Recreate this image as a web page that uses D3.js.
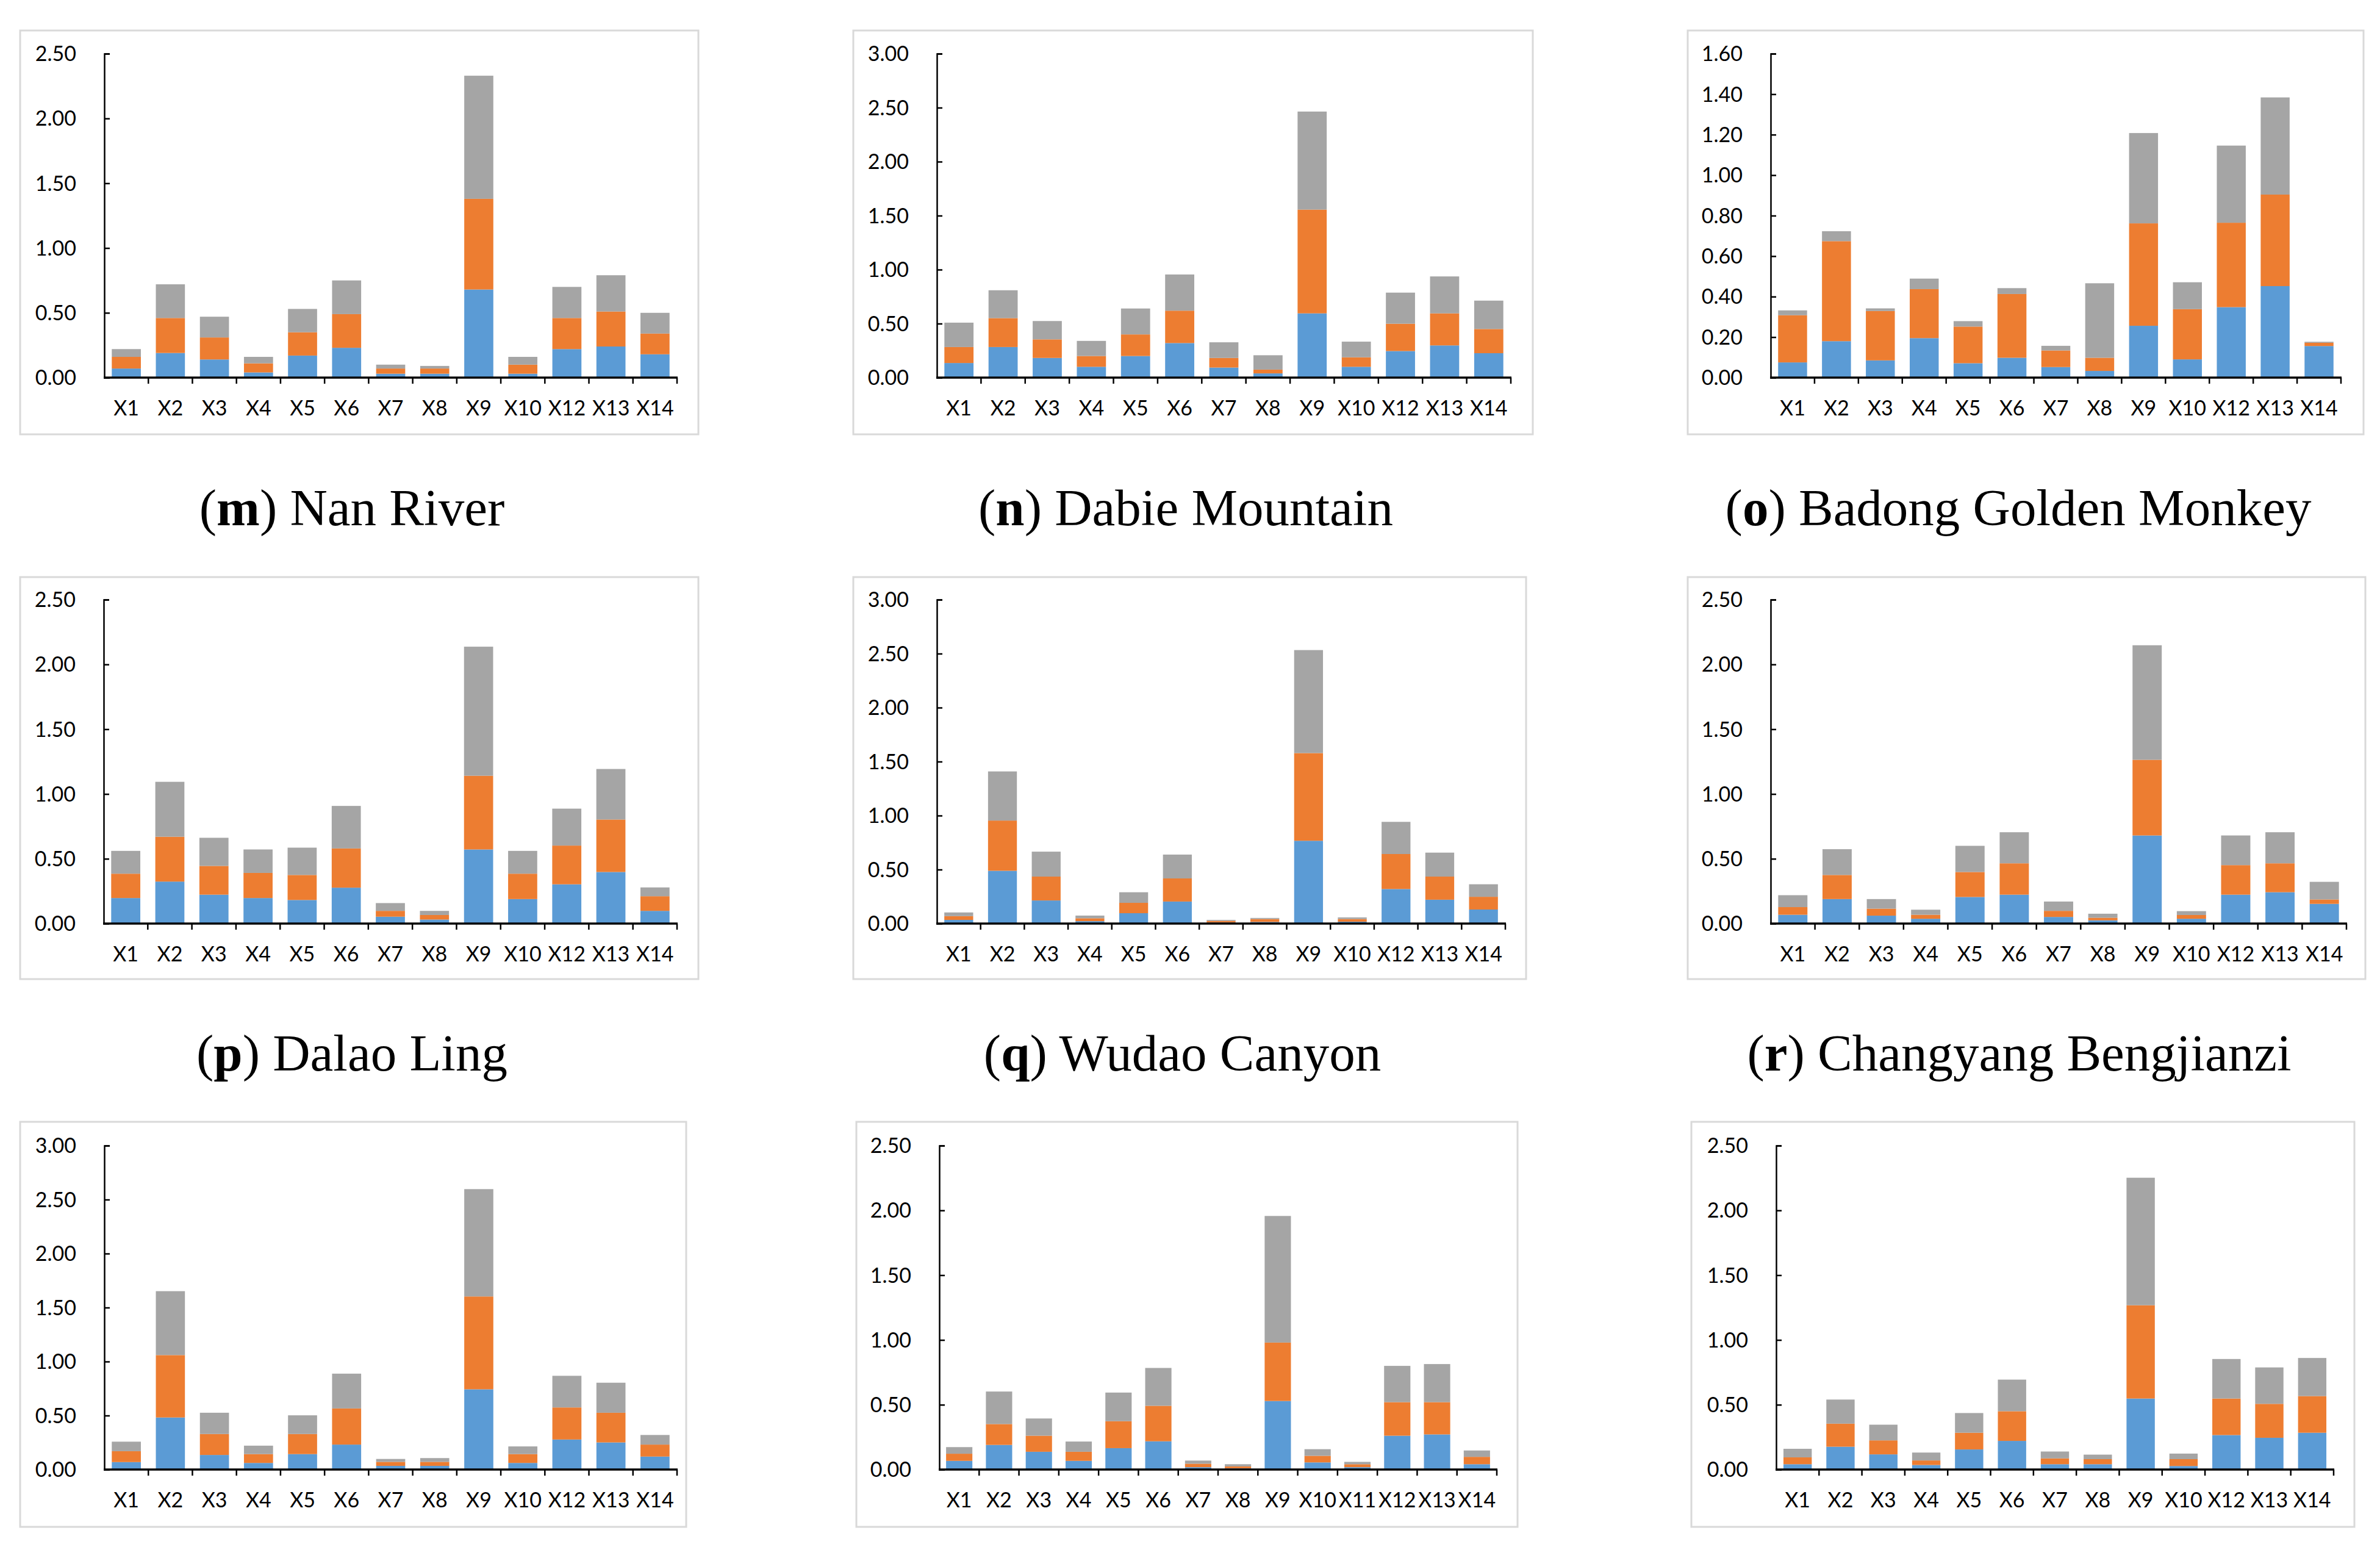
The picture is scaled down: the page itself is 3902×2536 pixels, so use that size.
<!DOCTYPE html>
<html lang="en">
<head>
<meta charset="utf-8">
<title>Stacked bars by site</title>
<script src="https://cdn.jsdelivr.net/npm/d3@7"></script>
<style>
  body { margin: 0; background: #fff; }
  .tick-label { font-family: Lato, "Open Sans", sans-serif; font-size: 34px; fill: #000; }
  .title { font-family: "Liberation Serif", "DejaVu Serif", serif; font-size: 85px; fill: #000; }
</style>
</head>
<body>
<div id="container"></div>
<script>
// categories
var cats13 = ["X1","X2","X3","X4","X5","X6","X7","X8","X9","X10","X12","X13","X14"];
var cats14 = ["X1","X2","X3","X4","X5","X6","X7","X8","X9","X10","X11","X12","X13","X14"];

// (m) Nan River
var nanBlue   = [0.07,0.19,0.14,0.04,0.17,0.23,0.03,0.03,0.68,0.03,0.22,0.24,0.18];
var nanOrange = [0.09,0.27,0.17,0.07,0.18,0.26,0.04,0.04,0.70,0.07,0.24,0.27,0.16];
var nanGray   = [0.06,0.26,0.16,0.05,0.18,0.26,0.03,0.02,0.95,0.06,0.24,0.28,0.16];
// (n) Dabie Mountain
var dabieBlue   = [0.135,0.283,0.182,0.10,0.20,0.32,0.093,0.039,0.595,0.10,0.246,0.298,0.226];
var dabieOrange = [0.148,0.268,0.172,0.10,0.20,0.30,0.089,0.035,0.961,0.088,0.253,0.297,0.224];
var dabieGray   = [0.226,0.258,0.170,0.14,0.24,0.335,0.145,0.133,0.908,0.145,0.288,0.342,0.263];
// (o) Badong Golden Monkey
var badongBlue   = [0.075,0.18,0.085,0.195,0.071,0.098,0.052,0.033,0.256,0.09,0.348,0.452,0.156];
var badongOrange = [0.233,0.494,0.244,0.242,0.181,0.315,0.082,0.065,0.506,0.248,0.417,0.452,0.016];
var badongGray   = [0.024,0.049,0.013,0.052,0.027,0.029,0.023,0.368,0.446,0.133,0.381,0.480,0.005];
// (p) Dalao Ling
var dalaoBlue   = [0.197,0.324,0.223,0.197,0.182,0.277,0.053,0.031,0.572,0.189,0.303,0.398,0.098];
var dalaoOrange = [0.188,0.346,0.222,0.194,0.193,0.303,0.045,0.035,0.569,0.196,0.299,0.405,0.113];
var dalaoGray   = [0.176,0.424,0.217,0.181,0.211,0.328,0.060,0.032,0.996,0.176,0.285,0.390,0.068];
// (q) Wudao Canyon
var wudaoBlue   = [0.034,0.489,0.214,0.022,0.096,0.204,0.010,0.015,0.767,0.017,0.320,0.221,0.130];
var wudaoOrange = [0.035,0.465,0.221,0.027,0.096,0.214,0.015,0.027,0.812,0.025,0.324,0.214,0.118];
var wudaoGray   = [0.034,0.455,0.231,0.025,0.098,0.221,0.009,0.010,0.954,0.015,0.298,0.222,0.116];
// (r) Changyang Bengjianzi
var changBlue   = [0.068,0.189,0.061,0.037,0.205,0.223,0.051,0.025,0.680,0.037,0.223,0.242,0.152];
var changOrange = [0.059,0.186,0.054,0.031,0.193,0.242,0.047,0.020,0.584,0.029,0.228,0.223,0.034];
var changGray   = [0.092,0.199,0.074,0.039,0.202,0.240,0.072,0.031,0.884,0.030,0.229,0.240,0.136];
// bottom row, left
var sBlue   = [0.069,0.482,0.135,0.061,0.143,0.231,0.034,0.034,0.743,0.061,0.278,0.251,0.120];
var sOrange = [0.101,0.578,0.194,0.082,0.186,0.335,0.037,0.037,0.860,0.082,0.297,0.275,0.111];
var sGray   = [0.088,0.592,0.197,0.078,0.173,0.322,0.027,0.035,0.994,0.071,0.293,0.278,0.089];
// bottom row, middle (14 categories)
var tBlue   = [0.067,0.190,0.137,0.067,0.165,0.218,0.018,0.010,0.529,0.055,0.018,0.261,0.271,0.041];
var tOrange = [0.055,0.161,0.124,0.070,0.208,0.274,0.027,0.014,0.451,0.051,0.023,0.259,0.249,0.057];
var tGray   = [0.051,0.251,0.133,0.079,0.221,0.292,0.024,0.017,0.977,0.051,0.018,0.280,0.294,0.049];
// bottom row, right
var uBlue   = [0.041,0.176,0.117,0.035,0.155,0.221,0.041,0.041,0.548,0.027,0.266,0.245,0.284];
var uOrange = [0.053,0.178,0.108,0.035,0.129,0.229,0.045,0.039,0.720,0.053,0.282,0.262,0.283];
var uGray   = [0.066,0.186,0.121,0.061,0.152,0.244,0.053,0.035,0.984,0.043,0.305,0.281,0.294];

var titleLetters = ["m","n","o","p","q","r","","",""];
var titleNames = ["Nan River","Dabie Mountain","Badong Golden Monkey","Dalao Ling","Wudao Canyon","Changyang Bengjianzi","","",""];
var yMaxes = [2.5, 3.0, 1.6, 2.5, 3.0, 2.5, 3.0, 2.5, 2.5];
var ySteps = [0.5, 0.5, 0.2, 0.5, 0.5, 0.5, 0.5, 0.5, 0.5];

var colors = ["#5b9bd5", "#ed7d31", "#a5a5a5"];

var panels = [
  {cats: cats13, s: [nanBlue, nanOrange, nanGray]},
  {cats: cats13, s: [dabieBlue, dabieOrange, dabieGray]},
  {cats: cats13, s: [badongBlue, badongOrange, badongGray]},
  {cats: cats13, s: [dalaoBlue, dalaoOrange, dalaoGray]},
  {cats: cats13, s: [wudaoBlue, wudaoOrange, wudaoGray]},
  {cats: cats13, s: [changBlue, changOrange, changGray]},
  {cats: cats13, s: [sBlue, sOrange, sGray]},
  {cats: cats14, s: [tBlue, tOrange, tGray]},
  {cats: cats13, s: [uBlue, uOrange, uGray]}
];

// layout (pixels)
var rowBox = [[50, 712], [946, 1605], [1839, 2503]];
var rowTop = [88, 983, 1878];
var rowZero = [619, 1514, 2409];
var rowTitle = [861, 1755];
var colBox = [[33,1145],[1399,2513],[2767,3875],[33,1145],[1399,2502],[2767,3878],[33,1125],[1404,2488],[2773,3860]];
var colAxis = [[171,1110],[1536,2477],[2903,3838],[170,1110],[1536,2468],[2903,3847],[171,1110],[1540,2454],[2912,3826]];

var W = 3902, H = 2536;
var svg = d3.select("#container").append("svg")
  .attr("width", W).attr("height", H)
  .attr("viewBox", "0 0 " + W + " " + H);

panels.forEach(function(p, i) {
  var row = Math.floor(i / 3);
  var box = colBox[i], ax = colAxis[i];
  var g = svg.append("g");

  g.append("rect")
    .attr("x", box[0]).attr("y", rowBox[row][0])
    .attr("width", box[1] - box[0]).attr("height", rowBox[row][1] - rowBox[row][0])
    .attr("fill", "#fff").attr("stroke", "#d9d9d9").attr("stroke-width", 3);

  var x = d3.scaleBand().domain(p.cats).range([ax[0], ax[1]])
    .paddingInner(0.34).paddingOuter(0.17);
  var y = d3.scaleLinear().domain([0, yMaxes[i]]).range([rowZero[row], rowTop[row]]);

  var table = p.cats.map(function(c, k) {
    return {cat: c, b: p.s[0][k], o: p.s[1][k], g: p.s[2][k]};
  });
  var stack = d3.stack().keys(["b", "o", "g"])(table);

  g.selectAll("g.layer").data(stack).enter().append("g")
    .attr("fill", function(d, k) { return colors[k]; })
    .selectAll("rect").data(function(d) { return d; }).enter().append("rect")
    .attr("x", function(d) { return x(d.data.cat); })
    .attr("width", x.bandwidth())
    .attr("y", function(d) { return y(d[1]); })
    .attr("height", function(d) { return y(d[0]) - y(d[1]); });

  // y axis
  var ticks = d3.range(0, yMaxes[i] + 1e-9, ySteps[i]);
  var yAxis = g.append("g").attr("transform", "translate(" + ax[0] + ",0)")
    .call(d3.axisRight(y).tickValues(ticks).tickSize(9).tickFormat(""));
  yAxis.select(".domain").attr("stroke", "#000").attr("stroke-width", 2.5);
  yAxis.selectAll(".tick line").attr("stroke", "#000").attr("stroke-width", 2.5);

  g.selectAll("text.ylab").data(ticks).enter().append("text")
    .attr("class", "tick-label")
    .attr("x", ax[0] - 46).attr("y", function(d) { return y(d); })
    .attr("dy", "0.36em").attr("text-anchor", "end")
    .text(d3.format(".2f"));

  // x axis with ticks between categories
  var step = x.step();
  var bounds = d3.range(p.cats.length + 1).map(function(k) { return ax[0] + k * step; });
  g.selectAll("line.xt").data(bounds.slice(1)).enter().append("line")
    .attr("x1", function(d) { return d; }).attr("x2", function(d) { return d; })
    .attr("y1", rowZero[row]).attr("y2", rowZero[row] + 10)
    .attr("stroke", "#000").attr("stroke-width", 2.5);
  g.append("line")
    .attr("x1", ax[0] - 1).attr("x2", ax[1] + 1)
    .attr("y1", rowZero[row]).attr("y2", rowZero[row])
    .attr("stroke", "#000").attr("stroke-width", 3.5);

  g.selectAll("text.xlab").data(p.cats).enter().append("text")
    .attr("class", "tick-label")
    .attr("x", function(d) { return x(d) + x.bandwidth() / 2; })
    .attr("y", rowZero[row] + 62)
    .attr("text-anchor", "middle")
    .text(function(d) { return d; });

  // caption below the panel
  if (titleLetters[i]) {
    var t = svg.append("text").attr("class", "title")
      .attr("x", (box[0] + box[1]) / 2 - 12).attr("y", rowTitle[row])
      .attr("text-anchor", "middle");
    t.append("tspan").text("(");
    t.append("tspan").attr("font-weight", "bold").text(titleLetters[i]);
    t.append("tspan").text(") " + titleNames[i]);
  }
});
</script>
</body>
</html>
